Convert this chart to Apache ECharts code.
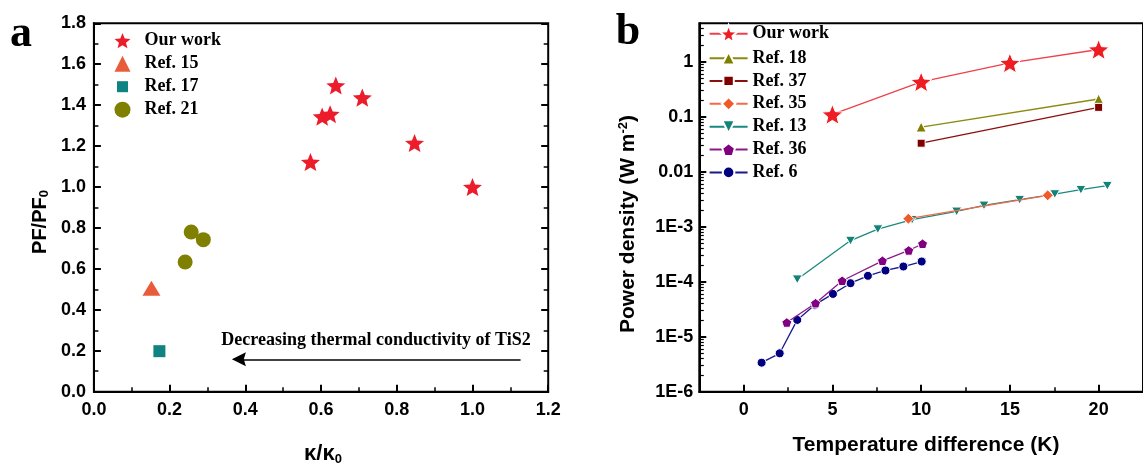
<!DOCTYPE html>
<html><head><meta charset="utf-8">
<script src="https://cdn.jsdelivr.net/npm/echarts@6/dist/echarts.min.js"></script>
<style>html,body{margin:0;padding:0;background:#fff}#c{width:1143px;height:466px}</style>
</head><body><div id="c"></div>
<script>
// ---- Panel a data (kappa/kappa0, PF/PF0) ----
const ourWorkA = [[0.572,1.122],[0.603,1.344],[0.624,1.356],[0.639,1.496],[0.709,1.437],[0.847,1.215],[1.0,1.0]];
const ref15A = [[0.152,0.505]];
const ref17A = [[0.173,0.198]];
const ref21A = [[0.257,0.78],[0.289,0.743],[0.241,0.634]];
const arrowA = [[1.127,0.158],[0.383,0.158]];
const legendA = ['Our work','Ref. 15','Ref. 17','Ref. 21'];

// ---- Panel b data (temperature difference K, power density W m^-2) ----
const ourWorkB = [[5,0.11],[10,0.43],[15,0.95],[20,1.67]];
const ref18B = [[10,0.065],[20,0.21]];
const ref37B = [[10,0.033],[20,0.148]];
const ref35B = [[9.28,1.40e-3],[17.13,3.72e-3]];
const ref13B = [[3.02,1.11e-4],[6.02,5.6e-4],[7.56,9.05e-4],[9.49,1.34e-3],[12.0,1.90e-3],[13.54,2.44e-3],[15.55,3.10e-3],[17.53,3.93e-3],[19.0,4.71e-3],[20.49,5.57e-3]];
const ref36B = [[2.43,1.81e-5],[4.05,4.06e-5],[5.55,1.04e-4],[7.82,2.40e-4],[9.3,3.70e-4],[10.08,4.9e-4]];
const ref6B = [[1.01,3.37e-6],[2.03,4.99e-6],[3.02,2.02e-5],[4.0,3.79e-5],[5.03,6.0e-5],[6.02,9.4e-5],[7.0,1.28e-4],[7.99,1.60e-4],[9.0,1.89e-4],[10.03,2.33e-4]];
const legendB = ['Our work ','Ref. 18','Ref. 37','Ref. 35','Ref. 13','Ref. 36','Ref. 6'];

// ---- tick values / labels ----
const bXTicks = [0,5,10,15,20];
const bXMinorTicks = [2.5,7.5,12.5,17.5];
const bYTicks = [1e-6,1e-5,1e-4,1e-3,0.01,0.1,1];
const bYTickLabels = ['1E-6','1E-5','1E-4','1E-3','0.01','0.1','1'];
const bYMinorTicks = [2e-6,3e-6,4e-6,5e-6,6e-6,7e-6,8e-6,9e-6,
  2e-5,3e-5,4e-5,5e-5,6e-5,7e-5,8e-5,9e-5,
  2e-4,3e-4,4e-4,5e-4,6e-4,7e-4,8e-4,9e-4,
  2e-3,3e-3,4e-3,5e-3,6e-3,7e-3,8e-3,9e-3,
  0.02,0.03,0.04,0.05,0.06,0.07,0.08,0.09,
  0.2,0.3,0.4,0.5,0.6,0.7,0.8,0.9,
  2,3,4];

const STAR = 'path://M50 0 L62.93 32.2 L97.55 34.55 L70.92 56.8 L79.39 90.45 L50 72 L20.61 90.45 L29.08 56.8 L2.45 34.55 L37.07 32.2 Z';
const PENTA = 'path://M50 0 L97.55 34.55 L79.39 90.45 L20.61 90.45 L2.45 34.55 Z';
const DTRI = 'path://M0 0 L10 0 L5 8.66 Z';
const ARROW = 'path://M5 0 L8 10 L5 8.5 L2 10 Z';
const SQ_LEG = 'path://M0 0 M16 16 M2.5 2.5 L13.5 2.5 L13.5 13.5 L2.5 13.5 Z';

const SANS = '"Liberation Sans", Arial, sans-serif';
const SERIF = '"Liberation Serif", "Times New Roman", serif';
const tickFont = {color:'#000', fontFamily:SANS, fontWeight:'bold', fontSize:18};
const MAJ = {color:'#000', width:2};
const MIN = {color:'#000', width:1.5};

const chart = echarts.init(document.getElementById('c'), null, {renderer:'canvas'});

function lineSeries(name, data, color, symbol, size, lineColor, z) {
  return {
    type:'line', name, data, xAxisIndex:1, yAxisIndex:2,
    symbol, symbolSize:size, symbolKeepAspect:true, showSymbol:true,
    z: z || 2,
    lineStyle:{color: lineColor || color, width:1.3},
    itemStyle:{color, borderColor:'#fff', borderWidth:1, opacity:1},
    emphasis:{disabled:true}
  };
}

// legend rows for panel b: [name, row centre y, legend icon height]
const legendBRows = [[legendB[0],35,22],[legendB[1],58.2,16],[legendB[2],80.9,13],[legendB[3],103.8,17],[legendB[4],126.7,16],[legendB[5],149.6,16],[legendB[6],172.4,14.5]];
const legendsB = legendBRows.map(r => ({
  left:708.6, top:r[1]-Math.max(9, r[2]/2), padding:0, orient:'vertical', itemWidth:38, itemHeight:r[2],
  selectedMode:false, data:[r[0]],
  textStyle:{color:'#000', fontFamily:SERIF, fontWeight:'bold', fontSize:18, lineHeight:18}
}));

const option = {
  animation:false,
  backgroundColor:'#fff',
  grid:[
    {left:93.9, top:23.3, width:454.3, height:368.4, show:true, borderColor:'#000', borderWidth:2, backgroundColor:'transparent'},
    {left:699.3, top:23.3, width:452, height:368.4, show:true, borderColor:'#000', borderWidth:2, backgroundColor:'transparent'}
  ],
  xAxis:[
    {gridIndex:0, type:'value', min:0, max:1.2, interval:0.2, position:'bottom',
     axisLine:{show:true, onZero:false, lineStyle:{color:'#000', width:2}},
     axisTick:{show:true, inside:true, length:7, lineStyle:MAJ},
     minorTick:{show:true, splitNumber:2, length:4.5, lineStyle:MIN},
     splitLine:{show:false}, minorSplitLine:{show:false},
     axisLabel:Object.assign({margin:9, formatter:v=>v.toFixed(1)}, tickFont)},
    {gridIndex:1, type:'value', min:-2.5, max:22.5, interval:2.5, position:'bottom',
     axisLine:{show:true, onZero:false, lineStyle:{color:'#000', width:2}},
     axisTick:{show:true, inside:true, length:7, customValues:bXTicks, lineStyle:MAJ},
     splitLine:{show:false},
     axisLabel:Object.assign({margin:9, customValues:bXTicks}, tickFont)},
    {gridIndex:1, type:'value', min:-2.5, max:22.5, interval:2.5, position:'bottom',
     axisLine:{show:false, onZero:false},
     axisTick:{show:true, inside:true, length:4.5, customValues:bXMinorTicks, lineStyle:MIN},
     splitLine:{show:false}, axisLabel:{show:false}}
  ],
  yAxis:[
    {gridIndex:0, type:'value', min:0, max:1.8, interval:0.2, position:'left',
     axisLine:{show:true, onZero:false, lineStyle:{color:'#000', width:2}},
     axisTick:{show:true, inside:true, length:7, lineStyle:MAJ},
     minorTick:{show:true, splitNumber:2, length:4.5, lineStyle:MIN},
     splitLine:{show:false}, minorSplitLine:{show:false},
     axisLabel:Object.assign({margin:8, formatter:v=>v.toFixed(1)}, tickFont)},
    {gridIndex:0, type:'value', min:0, max:1.8, interval:0.2, position:'right',
     axisLine:{show:false, onZero:false},
     axisTick:{show:true, inside:true, length:7, lineStyle:MAJ},
     minorTick:{show:true, splitNumber:2, length:4.5, lineStyle:MIN},
     splitLine:{show:false}, minorSplitLine:{show:false}, axisLabel:{show:false}},
    {gridIndex:1, type:'log', logBase:10, min:1e-6, max:5, position:'left',
     axisLine:{show:true, onZero:false, lineStyle:{color:'#000', width:2}},
     axisTick:{show:true, inside:true, length:7, customValues:bYTicks, lineStyle:MAJ},
     splitLine:{show:false},
     axisLabel:Object.assign({margin:6, customValues:bYTicks,
       formatter:v=>{const e=Math.round(Math.log10(v)); return bYTickLabels[e+6];}}, tickFont)},
    {gridIndex:1, type:'log', logBase:10, min:1e-6, max:5, position:'left',
     axisLine:{show:false, onZero:false},
     axisTick:{show:true, inside:true, length:4.5, customValues:bYMinorTicks, lineStyle:{color:'#000', width:1.2}},
     splitLine:{show:false}, axisLabel:{show:false}}
  ],
  legend:[
    {left:114.5, top:31.7, padding:0, orient:'vertical', itemWidth:16, itemHeight:16, itemGap:5,
     selectedMode:false,
     data:[{name:legendA[0]},{name:legendA[1]},{name:legendA[2], icon:SQ_LEG},{name:legendA[3]}],
     textStyle:{color:'#000', fontFamily:SERIF, fontWeight:'bold', fontSize:18, lineHeight:18, padding:[0,0,0,9]}}
  ].concat(legendsB),
  series:[
    {type:'scatter', name:legendA[0], data:ourWorkA, xAxisIndex:0, yAxisIndex:0,
     symbol:STAR, symbolSize:19, symbolKeepAspect:true, itemStyle:{color:'#ec1c2b', opacity:1}},
    {type:'scatter', name:legendA[1], data:ref15A, xAxisIndex:0, yAxisIndex:0,
     symbol:'triangle', symbolSize:[18,15], itemStyle:{color:'#e95c3b', opacity:1}},
    {type:'scatter', name:legendA[2], data:ref17A, xAxisIndex:0, yAxisIndex:0,
     symbol:'rect', symbolSize:12, itemStyle:{color:'#0f8282', opacity:1}},
    {type:'scatter', name:legendA[3], data:ref21A, xAxisIndex:0, yAxisIndex:0,
     symbol:'circle', symbolSize:15, itemStyle:{color:'#7f7f00', opacity:1}},
    {type:'scatter', name:'arrow', data:[], xAxisIndex:0, yAxisIndex:0,
     markLine:{silent:true, symbol:['none', ARROW], symbolSize:14, animation:false,
       lineStyle:{color:'#000', width:1.5, type:'solid'}, label:{show:false},
       data:[[{coord:arrowA[0]},{coord:arrowA[1]}]]}},
    lineSeries(legendB[0], ourWorkB, '#ee1d23', STAR, 21, '#f0404a', 3),
    lineSeries(legendB[1], ref18B, '#808000', 'triangle', 10, '#8a8a10'),
    lineSeries(legendB[2], ref37B, '#800000', 'rect', 8, '#8a1010'),
    lineSeries(legendB[3], ref35B, '#f05a28', 'diamond', 11, '#f36a4a', 4),
    lineSeries(legendB[4], ref13B, '#138378', DTRI, 10, '#1a8a80', 2),
    lineSeries(legendB[5], ref36B, '#800080', PENTA, 10, '#8a1a8a', 3),
    lineSeries(legendB[6], ref6B, '#000080', 'circle', 9, '#1a1a8a', 2)
  ],
  graphic:[
    {type:'text', x:21, y:35, style:{text:'a', fill:'#000', font:'bold 44px ' + SERIF, align:'center', verticalAlign:'middle', textAlign:'center', textVerticalAlign:'middle'}},
    {type:'text', x:628, y:33, style:{text:'b', fill:'#000', font:'bold 44px ' + SERIF, align:'center', verticalAlign:'middle', textAlign:'center', textVerticalAlign:'middle'}},
    {type:'text', x:376, y:340, style:{text:'Decreasing thermal conductivity of TiS2', fill:'#000', font:'bold 18px ' + SERIF, align:'center', verticalAlign:'middle', textAlign:'center', textVerticalAlign:'middle'}},
    {type:'text', x:323, y:454, style:{text:'{m|κ/κ}{s|0}', align:'center', verticalAlign:'middle', textAlign:'center', textVerticalAlign:'middle',
      rich:{m:{fill:'#000', fontFamily:SANS, fontWeight:'bold', fontSize:22, lineHeight:24},
            s:{fill:'#000', fontFamily:SANS, fontWeight:'bold', fontSize:13, lineHeight:6, verticalAlign:'bottom'}}}},
    {type:'text', x:40, y:222, rotation:Math.PI/2, style:{text:'{m|PF/PF}{s|0}', align:'center', verticalAlign:'middle', textAlign:'center', textVerticalAlign:'middle',
      rich:{m:{fill:'#000', fontFamily:SANS, fontWeight:'bold', fontSize:20, lineHeight:22},
            s:{fill:'#000', fontFamily:SANS, fontWeight:'bold', fontSize:13, lineHeight:6, verticalAlign:'bottom'}}}},
    {type:'text', x:926, y:445, style:{text:'Temperature difference (K)', fill:'#000', font:'bold 21px ' + SANS, align:'center', verticalAlign:'middle', textAlign:'center', textVerticalAlign:'middle'}},
    {type:'text', x:628, y:224, rotation:Math.PI/2, style:{text:'{m|Power density (W m}{p|-2}{m|)}', align:'center', verticalAlign:'middle', textAlign:'center', textVerticalAlign:'middle',
      rich:{m:{fill:'#000', fontFamily:SANS, fontWeight:'bold', fontSize:21, lineHeight:23},
            p:{fill:'#000', fontFamily:SANS, fontWeight:'bold', fontSize:13, lineHeight:8, verticalAlign:'top'}}}}
  ]
};
chart.setOption(option);
</script>
</body></html>
